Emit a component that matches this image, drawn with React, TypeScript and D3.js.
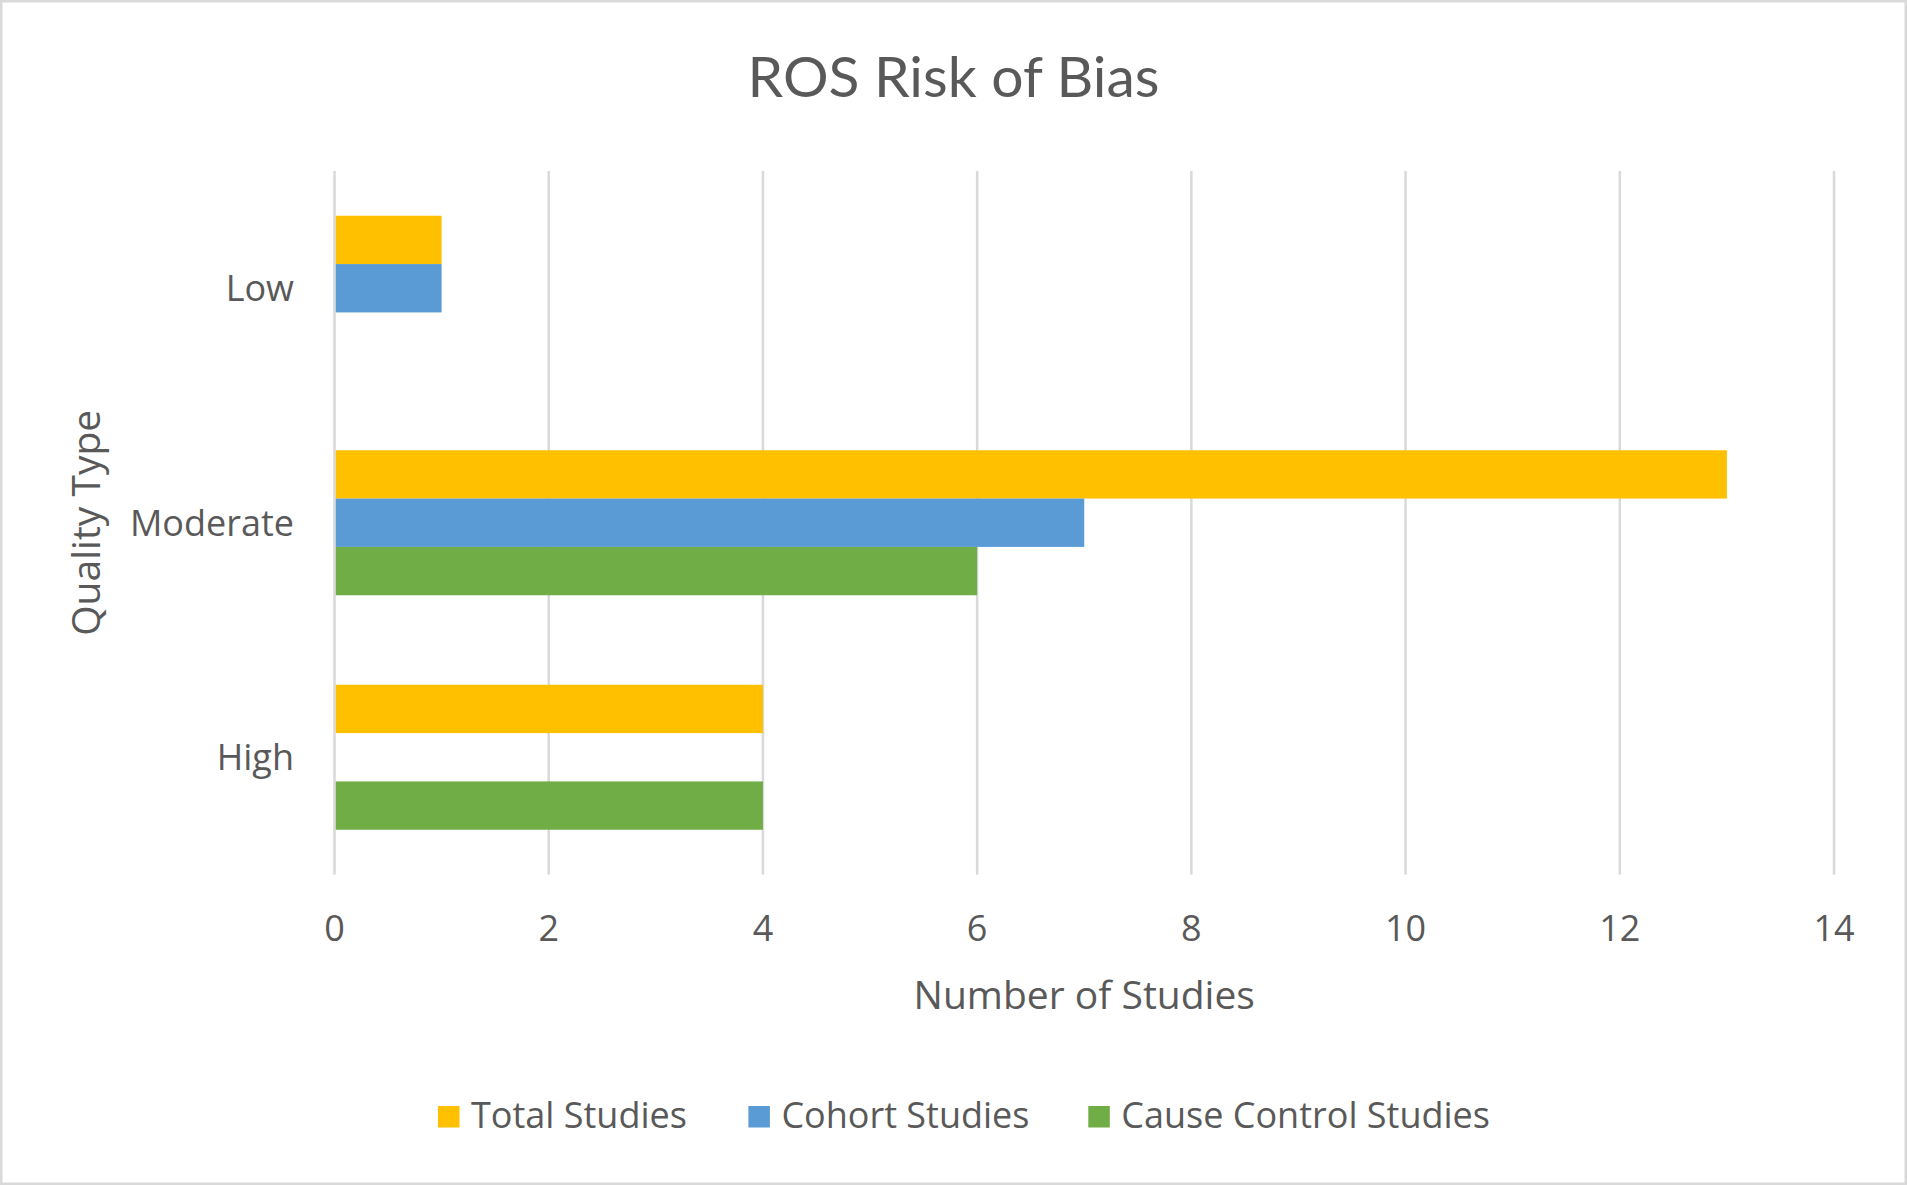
import React from "react";
import * as d3 from "d3";

const categories = ["Low", "Moderate", "High"];
const seriesNames = ["Total Studies", "Cohort Studies", "Cause Control Studies"];
const seriesColors = ["#FFC000", "#5B9BD5", "#70AD47"];
const totalStudies = [1, 13, 4];
const cohortStudies = [1, 7, 0];
const causeControlStudies = [0, 6, 4];
const xTicks = [0, 2, 4, 6, 8, 10, 12, 14];
const title = "ROS Risk of Bias";
const xTitle = "Number of Studies";
const yTitle = "Quality Type";

const W = 1907;
const H = 1185;
const plot = { left: 334.5, right: 1834, top: 171, bottom: 874.5 };
const legendItemX = [438, 748.4, 1088.3];
const TITLE_FONT = "Lato, 'Open Sans', sans-serif";
const FONT = "'Open Sans', Lato, sans-serif";
const TEXT = "#595959";
const GRID = "#d9d9d9";

export default function App() {
  const values = [totalStudies, cohortStudies, causeControlStudies];
  const x = d3.scaleLinear().domain([0, 14]).range([plot.left, plot.right]);
  const gap = 89.5 / 234.5;
  const y = d3
    .scaleBand<string>()
    .domain(categories)
    .range([plot.top, plot.bottom])
    .paddingInner(gap)
    .paddingOuter(gap / 2);
  const sub = d3
    .scaleBand<string>()
    .domain(seriesNames)
    .range([0, y.bandwidth()])
    .padding(0);

  return (
    <svg
      width={W}
      height={H}
      style={{ position: "absolute", left: 0, top: 0, background: "#fff" }}
      fontFamily={FONT}
    >
      <rect x={0} y={0} width={W} height={H} fill="#fff" />
      <rect
        x={1.25}
        y={1.25}
        width={W - 2.5}
        height={H - 2.5}
        fill="none"
        stroke={GRID}
        strokeWidth={2.5}
      />
      <text
        x={953.5}
        y={96.7}
        textAnchor="middle"
        fontSize={57}
        fill={TEXT}
        fontFamily={TITLE_FONT}
      >
        {title}
      </text>
      {xTicks.map((t) => (
        <line
          key={"g" + t}
          x1={x(t)}
          x2={x(t)}
          y1={plot.top}
          y2={plot.bottom}
          stroke={GRID}
          strokeWidth={2.5}
        />
      ))}
      {categories.map((c, ci) => (
        <g key={c}>
          {seriesNames.map((s, si) => {
            const v = values[si][ci];
            if (!v) return null;
            return (
              <rect
                key={s}
                x={x(0) + 1.25}
                y={(y(c) as number) + (sub(s) as number)}
                width={x(v) - x(0) - 1.25}
                height={sub.bandwidth()}
                fill={seriesColors[si]}
              />
            );
          })}
          <text
            x={x(0) - 40.5}
            y={(y(c) as number) + y.bandwidth() / 2}
            dy="0.36em"
            textAnchor="end"
            fontSize={36}
            fill={TEXT}
          >
            {c}
          </text>
        </g>
      ))}
      {xTicks.map((t) => (
        <text
          key={"t" + t}
          x={x(t)}
          y={940.5}
          textAnchor="middle"
          fontSize={36}
          fill={TEXT}
        >
          {t}
        </text>
      ))}
      <text
        x={(plot.left + plot.right) / 2}
        y={1009.3}
        textAnchor="middle"
        fontSize={39}
        fill={TEXT}
      >
        {xTitle}
      </text>
      <text
        transform={`translate(100, ${(plot.top + plot.bottom) / 2}) rotate(-90)`}
        textAnchor="middle"
        fontSize={39}
        fill={TEXT}
      >
        {yTitle}
      </text>
      {seriesNames.map((s, si) => (
        <g key={"l" + s}>
          <rect
            x={legendItemX[si]}
            y={1106}
            width={21.5}
            height={21.5}
            fill={seriesColors[si]}
          />
          <text x={legendItemX[si] + 33} y={1127.7} fontSize={36} fill={TEXT}>
            {s}
          </text>
        </g>
      ))}
    </svg>
  );
}
